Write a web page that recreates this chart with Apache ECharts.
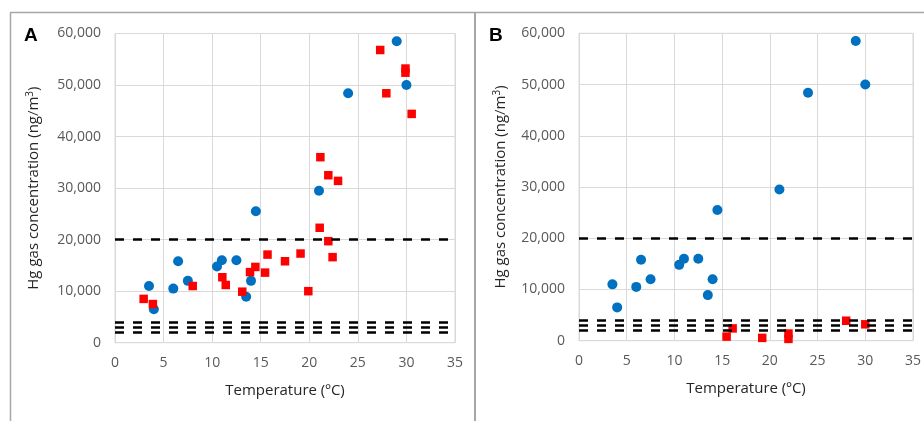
<!DOCTYPE html>
<html>
<head>
<meta charset="utf-8">
<script src="https://cdn.jsdelivr.net/npm/echarts@6/dist/echarts.min.js"></script>
<style>
  html, body { margin: 0; padding: 0; background: #fff; }
  #main { width: 924px; height: 421px; }
</style>
</head>
<body>
<div id="main"></div>
<script>
const FONT = '"Open Sans", "Liberation Sans", sans-serif'

// blue circles, same in both panels: [temperature, concentration]
const bluePoints = [
  [3.5, 11000], [4.0, 6500], [6.0, 10500], [6.5, 15800], [7.5, 12000],
  [10.5, 14800], [11.0, 16000], [12.5, 16000], [13.5, 8900], [14.0, 12000],
  [14.5, 25500], [21.0, 29500], [24.0, 48400], [29.0, 58500], [30.0, 50000],
]

// red squares, panel A
const redPointsA = [
  [2.95, 8500], [3.9, 7500], [8.0, 11000], [11.05, 12700], [11.4, 11200],
  [13.1, 9900], [13.9, 13700], [14.45, 14700], [15.45, 13600], [15.7, 17100],
  [17.5, 15800], [19.1, 17300], [19.9, 10000], [21.07, 22300], [21.14, 36000],
  [21.96, 32500], [21.96, 19700], [22.4, 16600], [22.96, 31400], [27.3, 56800],
  [27.93, 48400], [29.9, 53200], [29.9, 52400], [30.54, 44400],
]

// red squares, panel B
const redPointsB = [
  [15.47, 800], [16.1, 2400], [19.2, 550], [21.95, 1400], [21.95, 350],
  [28.0, 3900], [30.0, 3200],
]

// dashed reference levels (ng/m3)
const thresholds = [20000, 4000, 3000, 2000]

const panels = ['A', 'B']

const myChart = echarts.init(document.getElementById('main'))

const xAxisOf = (gridIndex) => ({
  type: 'value',
  gridIndex,
  min: 0,
  max: 35,
  interval: 5,
  name: 'Temperature (ºC)',
  nameLocation: 'middle',
  nameGap: 41,
  nameTextStyle: { color: '#262626', fontSize: 15, fontFamily: FONT },
  axisLine: { show: true, lineStyle: { color: '#d9d9d9' } },
  axisTick: { show: false },
  axisLabel: { color: '#595959', fontSize: 14, fontFamily: FONT, margin: 13 },
  splitLine: { show: true, lineStyle: { color: '#d9d9d9', width: 1 } },
})

const yAxisOf = (gridIndex, gap) => ({
  type: 'value',
  gridIndex,
  min: 0,
  max: 60000,
  interval: 10000,
  name: 'Hg gas concentration (ng/m{sup|3})',
  nameLocation: 'middle',
  nameGap: gap,
  nameTextStyle: {
    color: '#262626', fontSize: 15, fontFamily: FONT,
    rich: { sup: { fontSize: 10, fontFamily: FONT, color: '#262626', verticalAlign: 'top', padding: [0, 0, 8, 0] } },
  },
  axisLine: { show: true, lineStyle: { color: '#d9d9d9' } },
  axisTick: { show: false },
  axisLabel: {
    color: '#595959', fontSize: 14, fontFamily: FONT, margin: 14,
    formatter: (v) => v.toLocaleString('en-US'),
  },
  splitLine: { show: true, lineStyle: { color: '#d9d9d9', width: 1 } },
})

const dashedLines = {
  silent: true,
  symbol: 'none',
  label: { show: false },
  lineStyle: { color: '#000', width: 2.5, type: [9, 9] },
  data: thresholds.map((v) => ({ yAxis: v })),
}

const letterStyle = { fontSize: 19, fontWeight: 'bold', color: '#000', fontFamily: '"Liberation Sans", sans-serif' }

const options = {
  animation: false,
  backgroundColor: '#fff',
  title: [
    { text: panels[0], left: 19, top: 21, textStyle: letterStyle },
    { text: panels[1], left: 484, top: 21, textStyle: letterStyle },
  ],
  graphic: [
    { type: 'line', shape: { x1: 10, y1: 12.5, x2: 924, y2: 12.5 }, style: { stroke: '#a6a6a6', lineWidth: 1.5 } },
    { type: 'line', shape: { x1: 10.5, y1: 12, x2: 10.5, y2: 421 }, style: { stroke: '#a6a6a6', lineWidth: 1.5 } },
    { type: 'line', shape: { x1: 475, y1: 12, x2: 475, y2: 421 }, style: { stroke: '#a6a6a6', lineWidth: 2 } },
  ],
  grid: [
    { left: 115, right: 469, top: 33.5, bottom: 78.3, show: true, borderColor: '#d9d9d9', borderWidth: 1 },
    { left: 579, right: 8, top: 33.3, bottom: 80.3, show: true, borderColor: '#d9d9d9', borderWidth: 1 },
  ],
  xAxis: [xAxisOf(0), xAxisOf(1)],
  yAxis: [yAxisOf(0, 72), yAxisOf(1, 69)],
  series: [
    {
      type: 'scatter', xAxisIndex: 0, yAxisIndex: 0, z: 3,
      symbol: 'circle', symbolSize: 10,
      itemStyle: { color: '#0070c0', opacity: 1 },
      data: bluePoints,
      markLine: dashedLines,
    },
    {
      type: 'scatter', xAxisIndex: 0, yAxisIndex: 0, z: 4,
      symbol: 'rect', symbolSize: 8.5,
      itemStyle: { color: '#ff0000', opacity: 1 },
      data: redPointsA,
    },
    {
      type: 'scatter', xAxisIndex: 1, yAxisIndex: 1, z: 3,
      symbol: 'circle', symbolSize: 10,
      itemStyle: { color: '#0070c0', opacity: 1 },
      data: bluePoints,
      markLine: dashedLines,
    },
    {
      type: 'scatter', xAxisIndex: 1, yAxisIndex: 1, z: 4,
      symbol: 'rect', symbolSize: 8.5,
      itemStyle: { color: '#ff0000', opacity: 1 },
      data: redPointsB,
    },
  ],
}

myChart.setOption(options)
</script>
</body>
</html>
